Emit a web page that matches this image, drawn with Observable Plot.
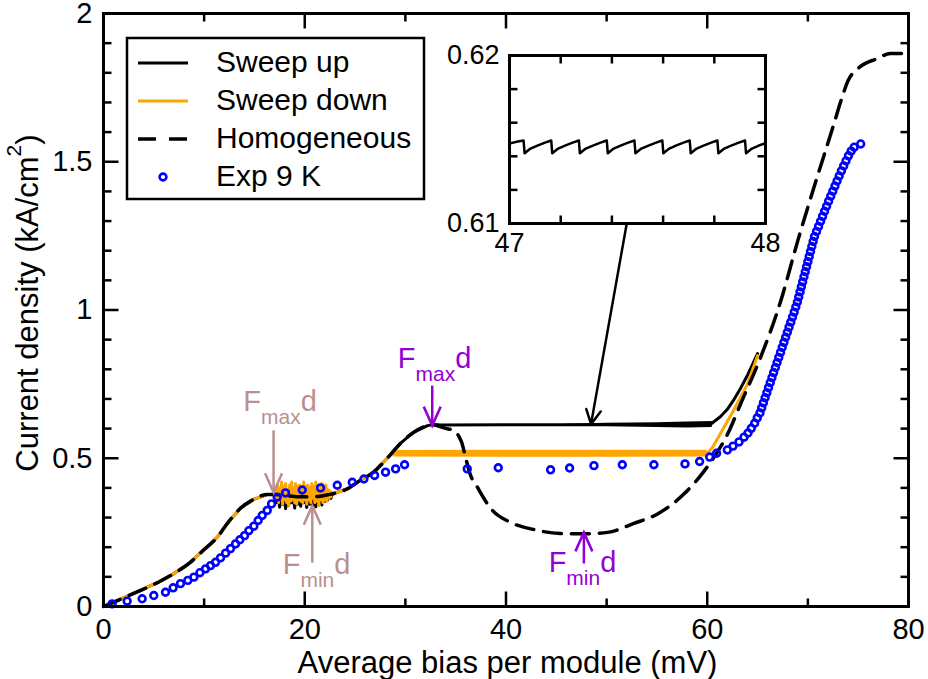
<!DOCTYPE html>
<html><head><meta charset="utf-8">
<script src="https://cdn.jsdelivr.net/npm/d3@7"></script>
<script src="https://cdn.jsdelivr.net/npm/@observablehq/plot@0.6"></script>
<style>
body{margin:0;background:#fff;}
#wrap{position:relative;width:928px;height:679px;}
#inset{position:absolute;left:429px;top:30px;}
</style></head><body><div id="wrap"><div id="main"></div><div id="inset"></div></div>
<script>
// ---------- axes ----------
const xMajor = [0, 20, 40, 60, 80];
const xMajorLabels = ["0", "20", "40", "60", "80"];
const xMinor = [10, 30, 50, 70];
const yMajor = [0, 0.5, 1, 1.5, 2];
const yMajorLabels = ["0", "0.5", "1", "1.5", "2"];
const yMinor = [0.1,0.2,0.3,0.4,0.6,0.7,0.8,0.9,1.1,1.2,1.3,1.4,1.6,1.7,1.8,1.9];
const xLabel = "Average bias per module (mV)";
const yLabelParts = ["Current density (kA/cm", "2", ")"];

// ---------- shared low-bias branch (all three simulated curves) ----------
const lowX = [0, 0.7, 3.0, 5.4, 7.0, 8.6, 9.9, 11.3, 12.3, 13.6, 14.9, 16.3, 16.9];
const lowY = [0, 0.01, 0.044, 0.081, 0.111, 0.148, 0.189, 0.233, 0.28, 0.331, 0.361, 0.378, 0.378];

// ---------- first plateau (oscillating region) ----------
const noiseX = [17.0,17.1,17.2,17.3,17.4,17.5,17.6,17.7,17.8,17.9,18.0,18.1,18.2,18.3,18.4,18.5,18.6,18.7,18.8,18.9,
  19.0,19.1,19.2,19.3,19.4,19.5,19.6,19.7,19.8,19.9,20.0,20.1,20.2,20.3,20.4,20.5,20.6,20.7,20.8,20.9,
  21.0,21.1,21.2,21.3,21.4,21.5,21.6,21.7,21.8,21.9,22.0,22.1,22.2,22.3,22.4,22.5,22.6,22.7,22.8];
const upNoiseY = [0.378,0.372,0.35,0.374,0.368,0.335,0.372,0.366,0.345,0.373,
  0.362,0.33,0.37,0.368,0.34,0.372,0.365,0.35,0.374,0.36,
  0.332,0.37,0.366,0.345,0.372,0.368,0.338,0.371,0.364,0.35,
  0.373,0.366,0.334,0.37,0.368,0.345,0.372,0.362,0.34,0.37,
  0.366,0.336,0.372,0.368,0.35,0.371,0.364,0.342,0.372,0.368,
  0.355,0.373,0.37,0.36,0.374,0.372,0.365,0.376,0.379];
const downNoiseY = [0.378,0.395,0.36,0.41,0.35,0.40,0.365,0.42,0.345,0.405,
  0.36,0.415,0.35,0.39,0.34,0.41,0.355,0.42,0.36,0.40,
  0.35,0.415,0.345,0.405,0.36,0.41,0.355,0.395,0.35,0.42,
  0.36,0.405,0.345,0.41,0.36,0.40,0.35,0.415,0.365,0.405,
  0.35,0.42,0.355,0.40,0.34,0.41,0.36,0.415,0.35,0.40,
  0.36,0.41,0.355,0.395,0.365,0.39,0.37,0.385,0.38];
const homMidX = [17.5, 18.5, 19.5, 20.5, 21.5, 22.3];
const homMidY = [0.377, 0.373, 0.370, 0.370, 0.372, 0.377];

// ---------- second rise (shared) ----------
const riseX = [22.9, 24.3, 25.5, 26.8, 28.2];
const riseY = [0.381, 0.398, 0.425, 0.452, 0.5];

// ---------- Homogeneous, high bias ----------
const homHighX = [29.5, 30.8, 32.2, 32.8, 33.2, 34.0, 34.8, 35.3, 35.6, 36.0, 36.4, 37.2, 38.5, 40.5, 42.7, 45.4, 47.7, 50.1, 52.7, 55.1, 57.7, 59.3, 60.6, 62.0, 63.4, 65.3, 67.3, 69.0, 70.6, 72.6, 73.3, 74.0, 75.0, 76.9, 78.2, 79.5, 80.0];
const homHighY = [0.55, 0.587, 0.61, 0.613, 0.609, 0.601, 0.593, 0.575, 0.553, 0.50, 0.45, 0.40, 0.33, 0.283, 0.26, 0.246, 0.245, 0.25, 0.28, 0.313, 0.38, 0.44, 0.50, 0.58, 0.69, 0.84, 1.03, 1.234, 1.413, 1.629, 1.707, 1.774, 1.815, 1.848, 1.865, 1.865, 1.86];

// ---------- Sweep up, high bias ----------
const upHighX = [29.5, 30.8, 32.2, 32.8, 33.5, 40, 50, 58, 60.3, 61.3, 62.0, 62.6, 63.3, 64.0, 65.0];
const upHighY = [0.55, 0.587, 0.61, 0.614, 0.612, 0.613, 0.613, 0.613, 0.614, 0.64, 0.665, 0.695, 0.735, 0.78, 0.853];
const upBandX = [46, 50, 55, 58, 60.5];
const upBandLo = [0.612, 0.607, 0.604, 0.602, 0.604];
const upBandHi = [0.615, 0.618, 0.62, 0.622, 0.624];

// ---------- Sweep down, high bias ----------
const downHighX = [28.6, 35, 45, 55, 60.0, 60.5, 61.3, 62.6, 64.0, 65.0];
const downHighY = [0.515, 0.515, 0.515, 0.515, 0.516, 0.535, 0.583, 0.66, 0.75, 0.846];
const downBandX = [28.8, 40, 50, 60.0];
const downBandLo = [0.504, 0.503, 0.503, 0.504];
const downBandHi = [0.526, 0.527, 0.527, 0.527];

// ---------- Experiment 9 K ----------
const expX = [0.86,2.35,3.84,5.0,6.16,6.92,7.65,8.38,8.98,9.58,10.14,10.64,11.13,11.63,12.13,12.62,13.12,13.55,14.02,14.45,
  14.94,15.37,15.77,16.27,16.7,17.26,18.09,19.75,21.57,23.23,24.72,25.88,26.94,28.03,29.03,29.92,
  36.15,39.23,44.43,46.32,48.74,51.56,54.7,57.79,59.24,60.24,60.93,62.0,62.56,63.16,63.65,64.05,64.38,64.71,64.97,
  65.24,65.41,65.58,65.75,65.92,66.09,66.26,66.43,66.6,66.77,66.94,67.11,67.28,67.45,67.62,67.79,67.96,68.13,68.3,68.47,
  68.64,68.8,68.96,69.09,69.22,69.35,69.48,69.61,69.74,69.87,70.0,70.13,70.26,70.39,70.52,70.66,70.86,71.06,71.26,71.46,
  71.66,71.86,72.06,72.27,72.48,72.69,72.9,73.11,73.33,73.56,73.79,74.03,74.3,74.6,75.25];
const expY = [0.009,0.018,0.026,0.037,0.048,0.063,0.077,0.088,0.099,0.114,0.127,0.138,0.149,0.164,0.18,0.195,0.211,0.225,0.239,0.256,
  0.271,0.29,0.307,0.324,0.346,0.369,0.383,0.393,0.4,0.409,0.419,0.43,0.442,0.453,0.464,0.478,
  0.464,0.468,0.461,0.467,0.475,0.478,0.478,0.481,0.489,0.504,0.517,0.528,0.541,0.555,0.571,0.585,0.601,0.618,0.636,
  0.653,0.67,0.687,0.704,0.721,0.738,0.755,0.772,0.789,0.806,0.823,0.84,0.857,0.874,0.891,0.908,0.925,0.942,0.959,0.976,
  0.993,1.01,1.027,1.044,1.061,1.078,1.095,1.112,1.129,1.146,1.163,1.18,1.197,1.214,1.231,1.248,1.265,1.282,1.299,1.316,
  1.333,1.35,1.367,1.384,1.401,1.418,1.435,1.452,1.469,1.486,1.503,1.52,1.536,1.549,1.56];

// ---------- annotations ----------
const annoText = ["Fmaxd", "Fmind", "Fmaxd", "Fmind"];
const annoColor = ["#bc8f8f", "#bc8f8f", "#9400d3", "#9400d3"];
const annoTextX = [17.55, 21.17, 32.9, 47.6];
const annoTextY = [0.661, 0.111, 0.806, 0.115];
const annoArrowX = [16.9, 20.75, 32.67, 47.74];
const annoTailY = [0.594, 0.148, 0.745, 0.145];
const annoTipY = [0.385, 0.34, 0.61, 0.25];
const insetArrow = {x1: 52.0, y1: 1.292, x2: 48.45, y2: 0.615};

// ---------- legend ----------
const legendLabels = ["Sweep up", "Sweep down", "Homogeneous", "Exp 9 K"];

// ---------- inset (47–48 mV zoom of sweep up) ----------
const insetXTicks = [47, 48];
const insetXLabels = ["47", "48"];
const insetXMinor = [47.2, 47.4, 47.6, 47.8];
const insetYTicks = [0.61, 0.62];
const insetYLabels = ["0.61", "0.62"];
const insetYMinor = [0.612, 0.614, 0.616, 0.618];
const insetX = [47.000,47.027,47.055,47.059,47.082,47.109,47.136,47.163,47.167,47.190,47.217,47.244,47.271,47.275,47.298,47.326,47.353,
  47.380,47.384,47.407,47.434,47.461,47.488,47.492,47.515,47.543,47.570,47.597,47.601,47.624,47.650,47.677,47.704,47.708,47.731,
  47.758,47.785,47.812,47.816,47.839,47.866,47.893,47.920,47.924,47.947,47.974,48.000];
const insetY = [0.61476,0.61486,0.61494,0.61418,0.61446,0.61464,0.6148,0.61494,0.61418,0.61446,0.61464,0.6148,0.61494,0.61418,0.61446,0.61464,0.6148,
  0.61494,0.61418,0.61446,0.61464,0.6148,0.61494,0.61418,0.61446,0.61464,0.6148,0.61494,0.61418,0.61446,0.61464,0.6148,0.61494,0.61418,0.61446,
  0.61464,0.6148,0.61494,0.61418,0.61446,0.61464,0.6148,0.61494,0.61418,0.61446,0.61464,0.61478];

// ================= build =================
const FONT = "'Liberation Sans', Arial, Helvetica, sans-serif";
const zip = (xs, ys) => xs.map((x, i) => ({x, y: ys[i]}));
const homData = zip([...lowX, ...homMidX, ...riseX, ...homHighX], [...lowY, ...homMidY, ...riseY, ...homHighY]);
const upData = zip([...lowX, ...noiseX, ...riseX, ...upHighX], [...lowY, ...upNoiseY, ...riseY, ...upHighY]);
const downData = zip([...lowX, ...noiseX, ...riseX, ...downHighX], [...lowY, ...downNoiseY, ...riseY, ...downHighY]);
const upBand = upBandX.map((x, i) => ({x, lo: upBandLo[i], hi: upBandHi[i]}));
const downBand = downBandX.map((x, i) => ({x, lo: downBandLo[i], hi: downBandHi[i]}));
const expData = zip(expX, expY);
const annos = annoText.map((t, i) => ({t, c: annoColor[i], tx: annoTextX[i], ty: annoTextY[i], ax: annoArrowX[i], y1: annoTailY[i], y2: annoTipY[i]}));
const insetData = zip(insetX, insetY);

const veeDown = {draw(c) { c.moveTo(-8.5, -19); c.lineTo(0, 0); c.lineTo(8.5, -19); }};
const veeUp = {draw(c) { c.moveTo(-8.5, 19); c.lineTo(0, 0); c.lineTo(8.5, 19); }};

// inward frame ticks as short links; pixel length converted to data units
function tickLinks(xs, ys, xDom, yDom, innerW, innerH, len) {
  const lx = len * (xDom[1] - xDom[0]) / innerW;
  const ly = len * (yDom[1] - yDom[0]) / innerH;
  const segs = [];
  for (const v of xs) {
    segs.push({x1: v, x2: v, y1: yDom[0], y2: yDom[0] + ly});
    segs.push({x1: v, x2: v, y1: yDom[1], y2: yDom[1] - ly});
  }
  for (const v of ys) {
    segs.push({y1: v, y2: v, x1: xDom[0], x2: xDom[0] + lx});
    segs.push({y1: v, y2: v, x1: xDom[1], x2: xDom[1] - lx});
  }
  return Plot.link(segs, {x1: "x1", y1: "y1", x2: "x2", y2: "y2", stroke: "#000000", strokeWidth: 2.5});
}

const W = 928, H = 679, ML = 103, MR = 20, MT = 13, MB = 73;
const xDomain = [0, 80], yDomain = [0, 2];

const main = Plot.plot({
  width: W, height: H,
  marginLeft: ML, marginRight: MR, marginTop: MT, marginBottom: MB,
  x: {domain: xDomain},
  y: {domain: yDomain},
  color: {type: "identity"},
  style: {fontFamily: FONT, fontSize: "29px", background: "white", overflow: "visible"},
  marks: [
    Plot.axisX(xMajor, {anchor: "bottom", tickSize: 0, tickPadding: 12, label: null, tickFormat: d => xMajorLabels[xMajor.indexOf(d)]}),
    Plot.axisY(yMajor, {anchor: "left", tickSize: 0, tickPadding: 11, label: null, tickFormat: d => yMajorLabels[yMajor.indexOf(d)]}),
    Plot.areaY(upBand, {x: "x", y1: "lo", y2: "hi", fill: "black"}),
    Plot.line(upData, {x: "x", y: "y", stroke: "black", strokeWidth: 3}),
    Plot.areaY(downBand, {x: "x", y1: "lo", y2: "hi", fill: "#ffa500"}),
    Plot.line(downData, {x: "x", y: "y", stroke: "#ffa500", strokeWidth: 3}),
    Plot.line(homData, {x: "x", y: "y", stroke: "black", strokeWidth: 3.5, strokeDasharray: "18,10", curve: "monotone-x"}),
    Plot.dot(expData, {x: "x", y: "y", r: 3.4, stroke: "#0000ff", strokeWidth: 2.6, fill: "none"}),
    Plot.link(annos, {x1: "ax", y1: "y1", x2: "ax", y2: "y2", stroke: "c", strokeWidth: 2.5}),
    Plot.dot(annos.filter(d => d.y2 < d.y1), {x: "ax", y: "y2", symbol: veeDown, stroke: "c", fill: "none", strokeWidth: 2.5}),
    Plot.dot(annos.filter(d => d.y2 > d.y1), {x: "ax", y: "y2", symbol: veeUp, stroke: "c", fill: "none", strokeWidth: 2.5}),
    Plot.arrow([insetArrow], {x1: "x1", y1: "y1", x2: "x2", y2: "y2", stroke: "black", strokeWidth: 2.5, headLength: 9.5, headAngle: 55}),
    Plot.text(annos, {x: "tx", y: "ty", text: "t", fill: "c", fontSize: 29, textAnchor: "middle", lineAnchor: "bottom"}),
    Plot.frame({strokeWidth: 3}),
    tickLinks(xMajor, yMajor, xDomain, yDomain, W - ML - MR, H - MT - MB, 15),
    tickLinks(xMinor, yMinor, xDomain, yDomain, W - ML - MR, H - MT - MB, 8),
    Plot.text([xLabel], {frameAnchor: "bottom", textAnchor: "middle", dx: 1.5, dy: 66, lineAnchor: "bottom", fontSize: 31}),
    Plot.text([yLabelParts.join("")], {frameAnchor: "left", textAnchor: "middle", rotate: -90, dx: -66, dy: -7, lineAnchor: "bottom", fontSize: 31})
  ]
});

// rich text: subscripts / superscript
d3.select(main).selectAll("text").each(function () {
  const t = this.textContent;
  const s = d3.select(this);
  if (t === "Fmaxd" || t === "Fmind") {
    this.textContent = "";
    s.append("tspan").text("F");
    s.append("tspan").attr("font-size", 21).attr("dy", 13).text(t.slice(1, 4));
    s.append("tspan").attr("dy", -13).text("d");
  } else if (t === yLabelParts.join("")) {
    this.textContent = "";
    s.append("tspan").text(yLabelParts[0]);
    s.append("tspan").attr("font-size", 21).attr("dy", -17).text(yLabelParts[1]);
    s.append("tspan").attr("dy", 17).text(yLabelParts[2]);
  }
});

// legend
const lg = d3.select(main).append("g").attr("font-family", FONT).attr("font-size", 30).attr("text-anchor", "start");
lg.append("rect").attr("x", 127).attr("y", 38).attr("width", 297).attr("height", 161)
  .attr("fill", "white").attr("stroke", "black").attr("stroke-width", 2.5);
const rowY = [63, 101, 139, 177];
lg.append("line").attr("x1", 138).attr("x2", 188).attr("y1", rowY[0]).attr("y2", rowY[0]).attr("stroke", "black").attr("stroke-width", 3);
lg.append("line").attr("x1", 138).attr("x2", 188).attr("y1", rowY[1]).attr("y2", rowY[1]).attr("stroke", "#ffa500").attr("stroke-width", 3);
lg.append("line").attr("x1", 138).attr("x2", 188).attr("y1", rowY[2]).attr("y2", rowY[2]).attr("stroke", "black").attr("stroke-width", 3.5).attr("stroke-dasharray", "18,13");
lg.append("circle").attr("cx", 163).attr("cy", rowY[3]).attr("r", 3.4).attr("fill", "none").attr("stroke", "#0000ff").attr("stroke-width", 2.6);
legendLabels.forEach((l, i) => {
  lg.append("text").attr("x", 216).attr("y", rowY[i] + 9).attr("fill", "black").text(l);
});
document.getElementById("main").appendChild(main);

// inset
const IW = 360, IH = 250, IML = 80, IMR = 24, IMT = 25, IMB = 57;
const insetXDomain = [47, 48], insetYDomain = [0.61, 0.62];
const inset = Plot.plot({
  width: IW, height: IH,
  marginLeft: IML, marginRight: IMR, marginTop: IMT, marginBottom: IMB,
  x: {domain: insetXDomain},
  y: {domain: insetYDomain},
  style: {fontFamily: FONT, fontSize: "27px", background: "transparent", overflow: "visible"},
  marks: [
    Plot.axisX(insetXTicks, {anchor: "bottom", tickSize: 0, tickPadding: 9, label: null, tickFormat: d => insetXLabels[insetXTicks.indexOf(d)]}),
    Plot.axisY(insetYTicks, {anchor: "left", tickSize: 0, tickPadding: 10, label: null, tickFormat: d => insetYLabels[insetYTicks.indexOf(d)]}),
    Plot.line(insetData, {x: "x", y: "y", stroke: "black", strokeWidth: 2.5}),
    Plot.frame({strokeWidth: 3}),
    tickLinks(insetXMinor, insetYMinor, insetXDomain, insetYDomain, IW - IML - IMR, IH - IMT - IMB, 8)
  ]
});
document.getElementById("inset").appendChild(inset);
</script>
</body></html>
